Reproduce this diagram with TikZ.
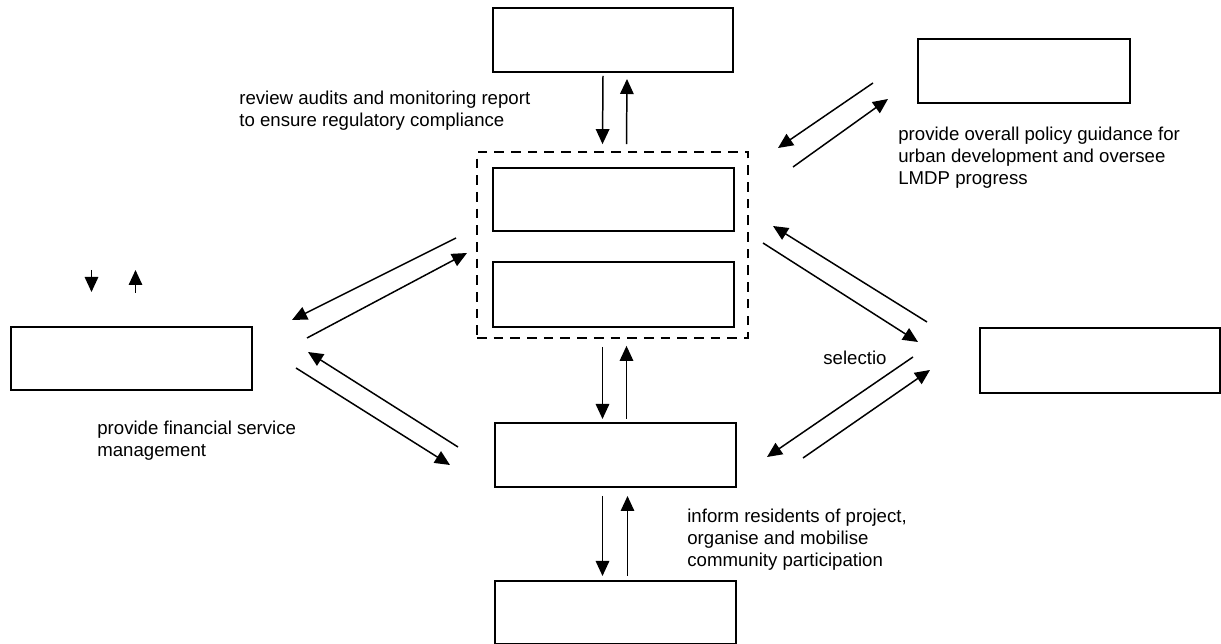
\documentclass[tikz,border=0pt]{standalone}
\usepackage{fontspec}
\setmainfont{Liberation Sans}
\usetikzlibrary{arrows.meta,calc}

\begin{document}
\begin{tikzpicture}[x=0.02cm, y=-0.02cm,
		box/.style={draw, line width=1.15pt, minimum width=4.82cm, minimum height=1.28cm, inner sep=0pt},
		note/.style={anchor=north west, align=left, inner sep=0pt, font=\fontsize{10.6}{12.4}\selectfont},
		link/.style={-{Triangle[length=0.3cm, width=0.27cm]}, line width=0.85pt}]
	\useasboundingbox (0,0) rectangle (1221,644);
	% boxes
	\node (audit) at (613,40) [box] {};
	\node (policy) at (1024,71) [box, minimum width=4.24cm] {};
	\node (unit) at (612.5,245) [draw, line width=1pt, dash pattern=on 5.5pt off 4pt, minimum width=5.42cm, minimum height=3.72cm] {};
	\node (steer) at (613.5,199.5) [box, minimum height=1.26cm] {};
	\node (office) at (613.5,294.5) [box, minimum height=1.3cm] {};
	\node (finance) at (131.5,358.5) [box, minimum height=1.26cm] {};
	\node (select) at (1100,360.5) [box, minimum height=1.3cm] {};
	\node (council) at (615.5,455) [box] {};
	\node (residents) at (615.5,612.5) [box, minimum height=1.26cm] {};
	% labels
	\node (review) at (239,91) [note] {review audits and monitoring report\\to ensure regulatory compliance};
	\node (guide) at (898,127) [note] {provide overall policy guidance for\\urban development and oversee\\LMDP progress};
	\node (choose) at (823,351) [note] {selectio};
	\node (fund) at (97,421) [note] {provide financial service\\management};
	\node (inform) at (687,509) [note] {inform residents of project,\\organise and mobilise\\community participation};
	% vertical links
	\draw[link] ($(audit.south)+(-10,3)$) -- ($(unit.north)+(-10,-7)$);
	\draw[link] ($(unit.north)+(14,-7)$) -- ($(audit.south)+(14,6)$);
	\draw[link] ($(unit.south)+(-10,8)$) -- ($(council.north)+(-13,-3)$);
	\draw[link] ($(council.north)+(11,-3)$) -- ($(unit.south)+(14,7)$);
	\draw[link] ($(council.south)+(-13,8)$) -- ($(residents.north)+(-13,-4)$);
	\draw[link] ($(residents.north)+(12,-4)$) -- ($(council.south)+(12,8)$);
	\draw[link] ($(finance.north)+(-40,-56)$) -- ($(finance.north)+(-40,-34)$);
	\draw[link] ($(finance.north)+(4,-33)$) -- ($(finance.north)+(4,-56)$);
	% diagonal links
	\coordinate (uf1) at (456,238); \coordinate (uf2) at (292,320);
	\coordinate (fu1) at (307,338); \coordinate (fu2) at (467,253);
	\coordinate (cf1) at (458,447); \coordinate (cf2) at (308,352);
	\coordinate (fc1) at (296,368); \coordinate (fc2) at (450,465);
	\coordinate (su1) at (927,322); \coordinate (su2) at (773,226);
	\coordinate (us1) at (763,243); \coordinate (us2) at (918,342);
	\coordinate (sc1) at (913,357); \coordinate (sc2) at (767,457);
	\coordinate (cs1) at (803,458); \coordinate (cs2) at (930,370);
	\coordinate (pu1) at (873,83); \coordinate (pu2) at (778,148);
	\coordinate (up1) at (793,167); \coordinate (up2) at (888,99);
	\draw[link] (uf1) -- (uf2);
	\draw[link] (fu1) -- (fu2);
	\draw[link] (cf1) -- (cf2);
	\draw[link] (fc1) -- (fc2);
	\draw[link] (su1) -- (su2);
	\draw[link] (us1) -- (us2);
	\draw[link] (sc1) -- (sc2);
	\draw[link] (cs1) -- (cs2);
	\draw[link] (pu1) -- (pu2);
	\draw[link] (up1) -- (up2);
\end{tikzpicture}
\end{document}
